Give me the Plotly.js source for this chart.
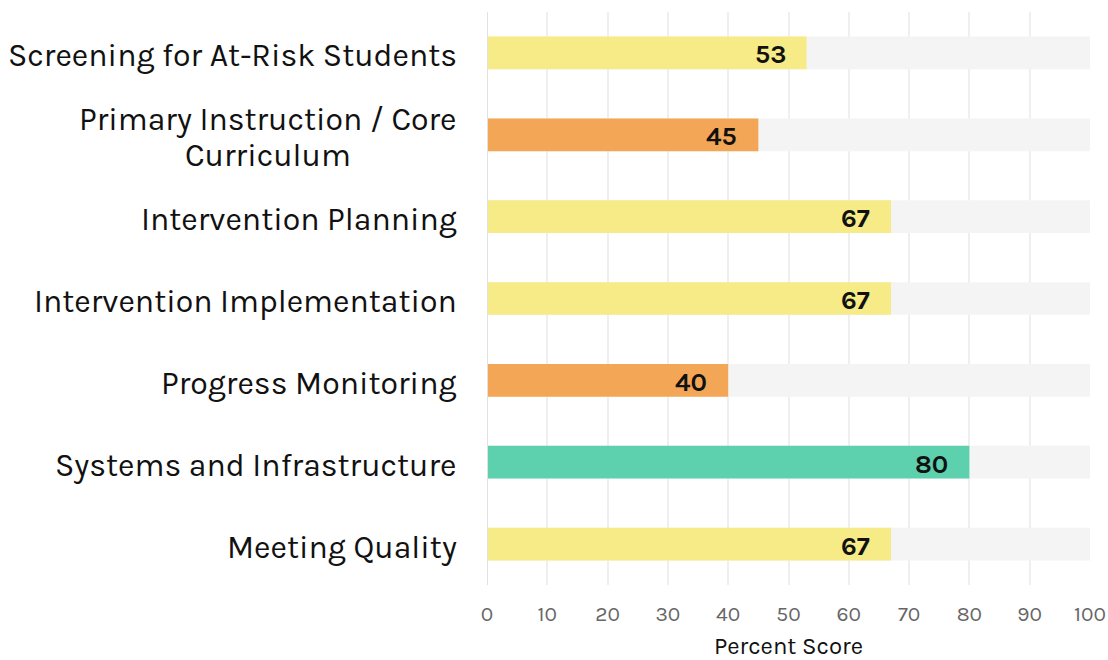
<!DOCTYPE html>
<html><head><meta charset="utf-8">
<script src="https://cdn.plot.ly/plotly-3.0.1.min.js"></script>
<style>body{margin:0;background:#fff}#chart{width:1108px;height:660px}</style>
</head><body><div id="chart"></div>
<script>
const categories = ["Screening for At-Risk Students","Primary Instruction / Core<br>Curriculum","Intervention Planning","Intervention Implementation","Progress Monitoring","Systems and Infrastructure","Meeting Quality"];
const scores = [53,45,67,67,40,80,67];
const maxScore = [100,100,100,100,100,100,100];
const barColors = ["#F6EB87","#F4A657","#F6EB87","#F6EB87","#F4A657","#5DD0AE","#F6EB87"];
const xTicks = [0,10,20,30,40,50,60,70,80,90,100];

const FONT = "Karla, Inter, 'Noto Sans', sans-serif";
const idx = categories.map((c,i)=>i);

const traces = [
  {type:'bar', orientation:'h', y:idx, x:maxScore, width:0.4,
   marker:{color:'#F4F4F4'}, hoverinfo:'skip', showlegend:false},
  {type:'bar', orientation:'h', y:idx, x:scores, width:0.4,
   marker:{color:barColors}, hoverinfo:'skip', showlegend:false}
];

const annotations = [];
// value labels, anchored at each bar end
scores.forEach((v,i)=>{
  annotations.push({xref:'x', yref:'y', x:v, y:i, xanchor:'right', yanchor:'middle',
    xshift:-19, yshift:-2, text:'<b>'+v+'</b>', showarrow:false,
    font:{family:FONT,size:26,color:'#111'}});
});
const nVal = annotations.length;
// category labels (multi-line ones split into lines to control line spacing)
const meta = [];
categories.forEach((c,i)=>{
  const lines = c.split('<br>');
  const n = lines.length, gap = 36;
  lines.forEach((ln,k)=>{
    annotations.push({
      xref:'paper', yref:'y', x:0, y:i, xanchor:'center', yanchor:'middle',
      xshift:0, yshift:((n-1)/2 - k)*gap - 3, text:ln, showarrow:false,
      font:{family:FONT,size:32,color:'#111'}
    });
    meta.push(i);
  });
});

const layout = {
  width:1108, height:660,
  margin:{l:487,r:18,t:12,b:75},
  paper_bgcolor:'#fff', plot_bgcolor:'#fff',
  barmode:'overlay',
  font:{family:FONT},
  xaxis:{range:[0,100], tickvals:xTicks, ticktext:xTicks.map(String),
    showgrid:true, gridcolor:'#EFEFEF', gridwidth:2, zeroline:false,
    showline:false, ticks:'', ticklabelstandoff:14,
    tickfont:{family:FONT,size:21,color:'#666'},
    title:{text:'Percent Score', font:{family:FONT,size:24,color:'#111'}, standoff:18}},
  yaxis:{range:[6.5,-0.5], showticklabels:false, ticks:'', showgrid:false,
    zeroline:false, showline:false},
  shapes:[{type:'line', xref:'x', yref:'paper', x0:0, x1:0, y0:0, y1:1,
    line:{color:'#E2E2E2', width:2}, layer:'above'}],
  annotations:annotations
};

Plotly.newPlot('chart', traces, layout, {displayModeBar:false, staticPlot:true}).then(gd=>{
  // right-align each label block at 29px left of the plot and center its lines within the block
  const nodes = gd.querySelectorAll('.annotation-text-g');
  const widths = Array.from(nodes).map(n=>n.getBBox().width);
  const groups = {};
  meta.forEach((g,j)=>{ groups[g] = Math.max(groups[g]||0, widths[nVal+j]); });
  const rightEdge = -29;
  const upd = annotations.map((a,j)=>{
    if (j < nVal) return a;
    const b = Object.assign({}, a);
    b.xshift = rightEdge - groups[meta[j-nVal]]/2;
    return b;
  });
  Plotly.relayout(gd,{annotations:upd});
});
</script></body></html>
